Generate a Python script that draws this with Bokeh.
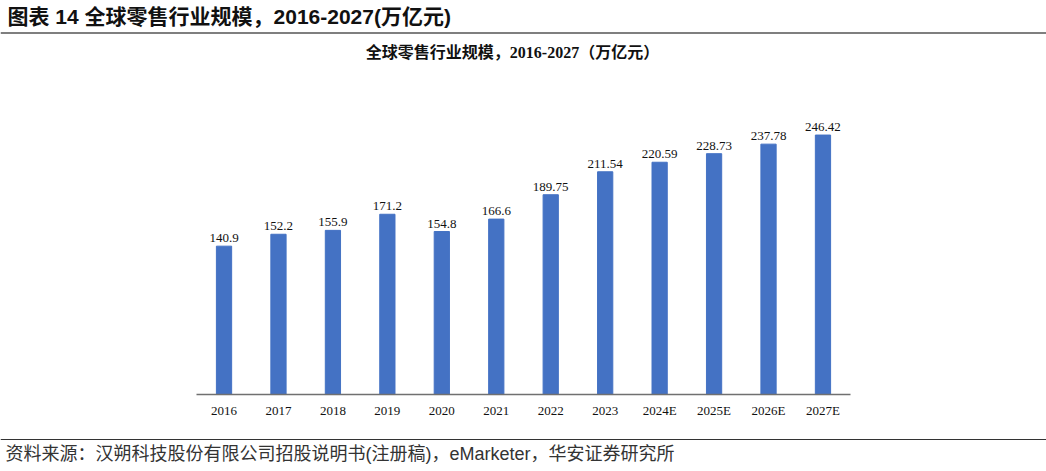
from bokeh.plotting import figure
from bokeh.models import (FactorRange, Range1d, CategoricalAxis, Label, Span,
                          ColumnDataSource)
from bokeh.core.properties import value
from bokeh.embed import file_html
from bokeh.resources import INLINE

years = ["2016", "2017", "2018", "2019", "2020", "2021", "2022", "2023",
         "2024E", "2025E", "2026E", "2027E"]
sizes = [140.9, 152.2, 155.9, 171.2, 154.8, 166.6, 189.75, 211.54,
         220.59, 228.73, 237.78, 246.42]
labels = ["140.9", "152.2", "155.9", "171.2", "154.8", "166.6", "189.75",
          "211.54", "220.59", "228.73", "237.78", "246.42"]

header = "图表 14 全球零售行业规模，2016-2027(万亿元)"
chart_title = "全球零售行业规模，2016-2027（万亿元）"
source_note = "资料来源：汉朔科技股份有限公司招股说明书(注册稿)，eMarketer，华安证券研究所"

W, H = 1046, 471

src = ColumnDataSource(dict(x=years, top=sizes, lab=labels))

p = figure(width=W, height=H, output_backend="svg", toolbar_location=None,
           x_range=FactorRange(factors=years, range_padding=3.605,
                               range_padding_units="absolute"),
           y_range=Range1d(-73.1, 374.2),
           x_axis_location=None, y_axis_location=None,
           min_border=0, min_border_left=0, min_border_right=0,
           min_border_top=0, min_border_bottom=0)
p.outline_line_color = None
p.xgrid.visible = False
p.ygrid.visible = False
p.background_fill_color = "white"
p.border_fill_color = "white"

p.vbar(x="x", top="top", bottom=0, width=0.28, source=src,
       fill_color="#4472C4", line_color="#4472C4")

p.text(x="x", y="top", text="lab", source=src, y_offset=-8,
       text_align="center", text_baseline="alphabetic",
       text_font=value("Liberation Serif"), text_font_size="13px",
       text_color="#111111")

ax = CategoricalAxis(fixed_location=0, bounds=(0, 12))
ax.axis_line_color = "#707070"
ax.axis_line_width = 1.5
ax.major_tick_line_color = None
ax.minor_tick_line_color = None
ax.major_tick_out = 0
ax.major_tick_in = 0
ax.major_label_standoff = 8
ax.major_label_text_font = "Liberation Serif"
ax.major_label_text_font_size = "13px"
ax.major_label_text_color = "#111111"
p.add_layout(ax, "below")

# header
p.add_layout(Label(x=7, y=H - 16, x_units="screen", y_units="screen",
                   text=header, text_baseline="middle", text_align="left",
                   text_font="Liberation Sans, Noto Sans CJK SC",
                   text_font_style="bold", text_font_size="21px",
                   text_color="#111111"))
p.add_layout(Span(location=H - 32.5, location_units="screen",
                  dimension="width", line_color="#555555", line_width=1.5))

# chart title
p.add_layout(Label(x=512, y=H - 52, x_units="screen", y_units="screen",
                   text=chart_title, text_baseline="middle", text_align="center",
                   text_font="Liberation Serif, Noto Sans CJK SC",
                   text_font_style="bold", text_font_size="16px",
                   text_color="#111111"))

# source
p.add_layout(Span(location=H - 439, location_units="screen",
                  dimension="width", line_color="#333333", line_width=1.2))
p.add_layout(Label(x=5, y=H - 453, x_units="screen", y_units="screen",
                   text=source_note, text_baseline="middle", text_align="left",
                   text_font="Liberation Sans, Noto Sans CJK SC",
                   text_font_size="18px", text_color="#333333"))

open("out.html", "w").write(file_html(p, INLINE))
